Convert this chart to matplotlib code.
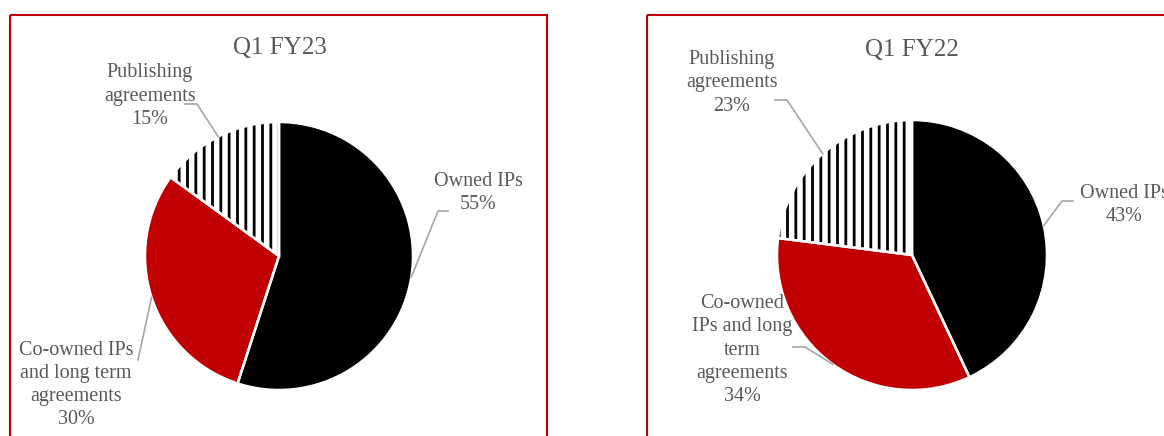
import numpy as np
import matplotlib.pyplot as plt
from matplotlib.patches import Rectangle

plt.rcParams['font.family'] = ['Liberation Serif', 'DejaVu Serif']
plt.rcParams['hatch.linewidth'] = 2.0

W, H = 1164, 436

# data
categories = ['Owned IPs', 'Co-owned IPs and long term agreements', 'Publishing agreements']
fy23_values = [55, 30, 15]
fy22_values = [43, 34, 23]
slice_colors = ['black', '#C00000', 'white']
slice_hatches = [None, None, '||']
fy23_labels = ['Owned IPs', 'Co-owned IPs\nand long term\nagreements', 'Publishing\nagreements']
fy22_labels = ['Owned IPs', 'Co-owned\nIPs and long\nterm\nagreements', 'Publishing\nagreements']

text_color = '#595959'
line_color = '#A6A6A6'
frame_color = '#C00000'

# layout in pixels (from top left)
panels = [
    dict(title='Q1 FY23', values=fy23_values, labels=fy23_labels,
         frame_x=10, center=(279, 256), r=134, title_xy=(280, 48),
         label_xy=[(478, 193), (76, 385), (150, 96)],
         leader=[[(438, 211), (448, 211)], [(138, 360)], [(197, 104), (185, 104)]]),
    dict(title='Q1 FY22', values=fy22_values, labels=fy22_labels,
         frame_x=647, center=(912, 255), r=135, title_xy=(912, 50),
         label_xy=[(1124, 205), (742, 350), (732, 83)],
         leader=[[(1062, 201), (1073, 201)], [(805, 347), (793, 347)], [(787, 100), (775, 100)]]),
]

fig = plt.figure(figsize=(W / 100, H / 100), dpi=100)

for p in panels:
    cx, cy = p['center']
    r = p['r']
    ax = fig.add_axes([(cx - r) / W, (H - cy - r) / H, 2 * r / W, 2 * r / H])
    wedges, _ = ax.pie(p['values'], colors=slice_colors, startangle=90, counterclock=False,
                       wedgeprops=dict(edgecolor='black', linewidth=0))
    for w, hatch in zip(wedges, slice_hatches):
        if hatch:
            w.set_hatch(hatch)
    # white separators on top
    ax.pie(p['values'], colors=['none'] * 3, startangle=90, counterclock=False,
           wedgeprops=dict(edgecolor='white', linewidth=1.8, fill=False))
    ax.set_xlim(-1, 1)
    ax.set_ylim(-1, 1)
    ax.axis('off')
    p['wedges'] = wedges

# overlay for frames, titles, labels and leader lines
ov = fig.add_axes([0, 0, 1, 1])
ov.set_xlim(0, W)
ov.set_ylim(H, 0)
ov.axis('off')

for p in panels:
    ov.add_patch(Rectangle((p['frame_x'], 15), 537, 440, fill=False,
                           edgecolor=frame_color, linewidth=1.5, clip_on=False))
    ov.text(p['title_xy'][0], p['title_xy'][1], p['title'], fontsize=18,
            color=text_color, ha='center', va='center')
    cx, cy = p['center']
    r = p['r']
    for w, lab, val, xy, pts in zip(p['wedges'], p['labels'], p['values'],
                                    p['label_xy'], p['leader']):
        ov.text(xy[0], xy[1], f'{lab}\n{val}%', fontsize=14.5, color=text_color,
                ha='center', va='center', multialignment='center', linespacing=1.3)
        ang = np.deg2rad((w.theta1 + w.theta2) / 2)
        xs = [cx + r * np.cos(ang)] + [q[0] for q in pts]
        ys = [cy - r * np.sin(ang)] + [q[1] for q in pts]
        ov.plot(xs, ys, color=line_color, linewidth=1.2)

fig.savefig('out.png', dpi=100)
